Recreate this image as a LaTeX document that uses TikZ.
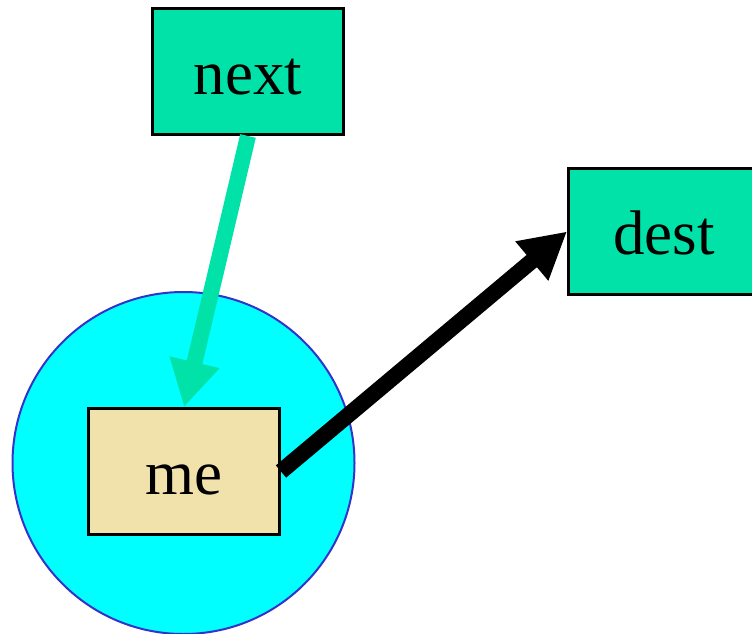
\documentclass[tikz,border=0pt]{standalone}
\usepackage{fontspec}
\setmainfont{Liberation Serif}
\usetikzlibrary{arrows.meta}
\definecolor{boxgreen}{HTML}{00E2A8}
\definecolor{wheatish}{HTML}{F0E2AA}
\definecolor{ringblue}{HTML}{3333CC}
\definecolor{ringfill}{HTML}{00FFFF}
\begin{document}
\begin{tikzpicture}[x=1pt,y=-1pt,
  box/.style={draw=black, line width=3pt, minimum width=191pt, minimum height=126pt,
    inner sep=0pt, text height=46pt, text depth=0pt, font=\fontsize{63}{70}\selectfont},
  edge/.style={line width=16pt, -{Triangle[length=46pt,width=48pt]}}]
\useasboundingbox (0,0) rectangle (752,634);
\clip (0,0) rectangle (752,634);
% cluster disc around "me"
\node[circle, draw=ringblue, fill=ringfill, line width=2pt, minimum size=342pt, inner sep=0pt]
  (group) at (183.5,463) {};
\node[box, fill=boxgreen] (next) at (248,71.5) {next};
\node[box, fill=boxgreen] (dest) at (664,231.5) {dest};
\node[box, fill=wheatish] (me) at (184,471.5) {me};
\draw[edge, draw=boxgreen, fill=boxgreen] (next.south) -- (me.north);
\draw[edge, draw=black, fill=black] (me.east) -- (dest.west);
\end{tikzpicture}
\end{document}
